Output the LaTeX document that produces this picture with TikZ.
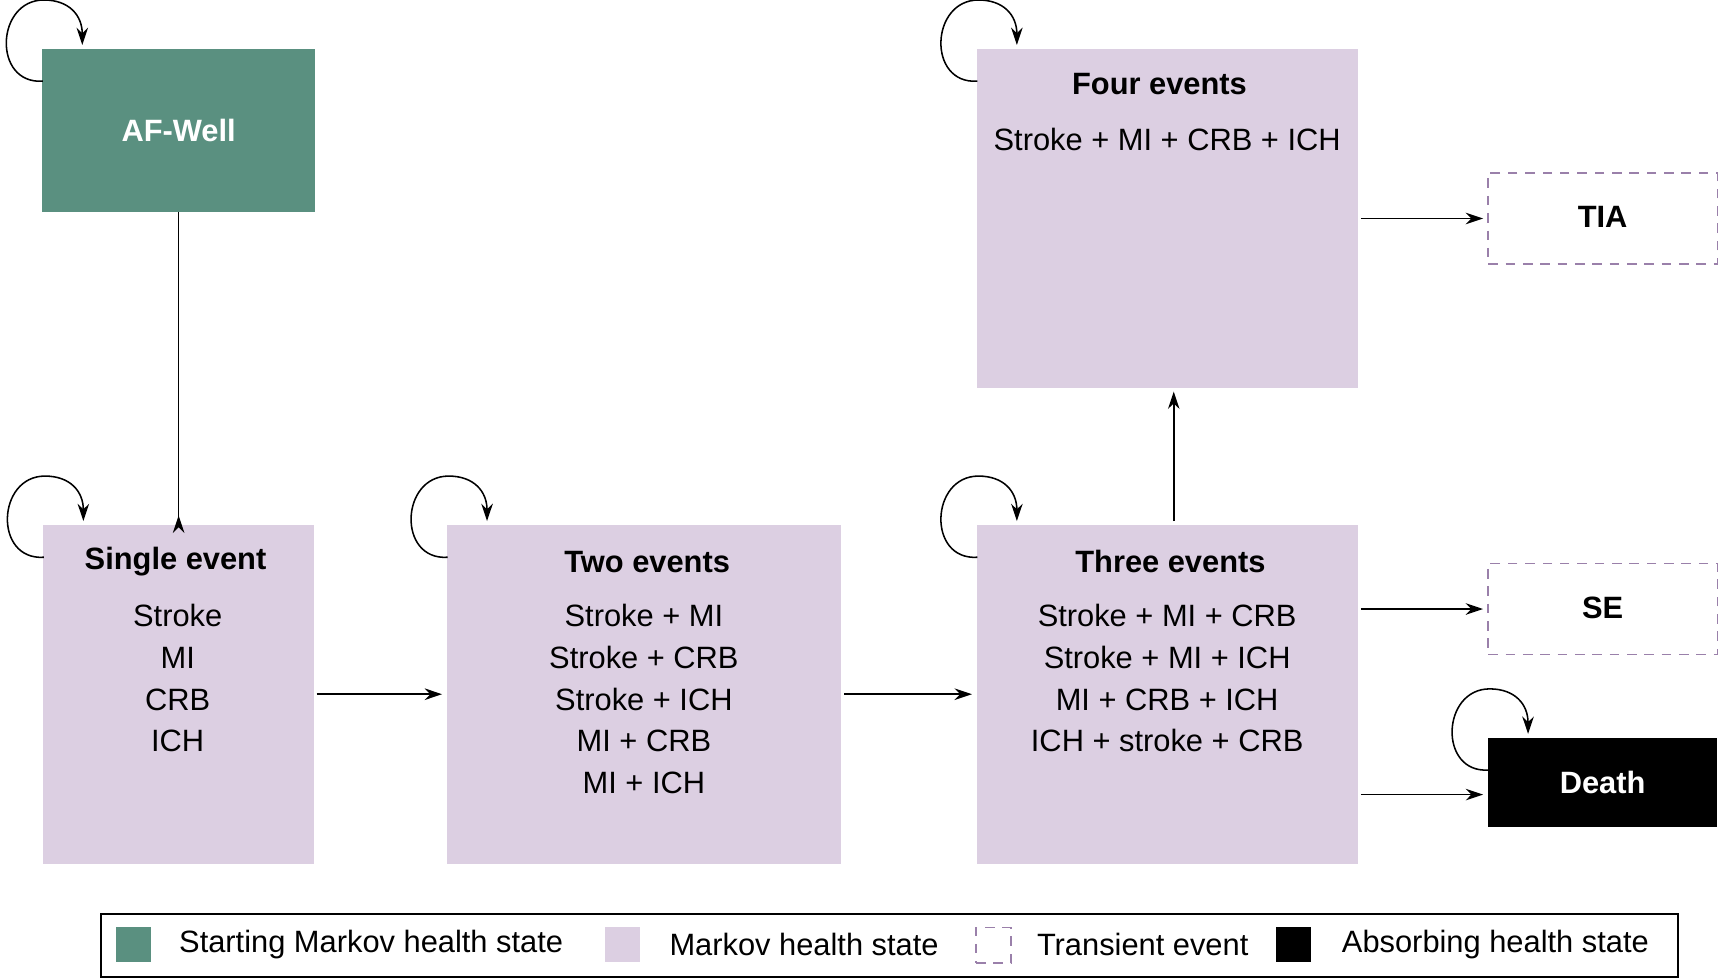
\documentclass[tikz,border=0pt]{standalone}
\usepackage{fontspec}
\setmainfont{Liberation Sans}
\usetikzlibrary{calc,arrows.meta}
\definecolor{teal1}{HTML}{5A9080}
\definecolor{pinkst}{HTML}{DCCFE2}
\definecolor{dashc}{HTML}{9A80AA}
\begin{document}
\begin{tikzpicture}[x=0.02cm,y=-0.02cm,
  box/.style={draw=none,anchor=north west,inner sep=0pt},
  state/.style={box,fill=pinkst},
  trans/.style={box,draw=dashc,dash pattern=on 5pt off 4pt,line width=0.8pt},
  arr/.style={-{Stealth[length=9pt,width=6pt]},line width=0.8pt},
  txt/.style={font=\fontsize{16}{21.6}\selectfont,align=center},
  ttl/.style={font=\fontsize{16}{21.6}\selectfont\bfseries}]
\useasboundingbox (0,0) rectangle (1568,892);
\newcommand{\selfloop}[1]{\draw[arr] ($(#1.north west)+(1,30)$) .. controls ($(#1.north west)+(-45,33)$) and ($(#1.north west)+(-42,-44)$) .. ($(#1.north west)+(2,-44)$) .. controls ($(#1.north west)+(25,-44)$) and ($(#1.north west)+(37,-30)$) .. ($(#1.north west)+(37,-3)$);}
\node[box,fill=teal1,minimum width=249*0.02cm,minimum height=149*0.02cm] (af) at (38,44) {};
\node[font=\fontsize{16}{20}\selectfont\bfseries,text=white] at (af.center) {AF-Well};
\node[state,minimum width=247*0.02cm,minimum height=309*0.02cm] (s1) at (39,478) {};
\node[state,minimum width=359*0.02cm,minimum height=309*0.02cm] (s2) at (407,478) {};
\node[state,minimum width=348*0.02cm,minimum height=309*0.02cm] (s3) at (890,478) {};
\node[state,minimum width=348*0.02cm,minimum height=309*0.02cm] (s4) at (890,44) {};
\node[trans,minimum width=209*0.02cm,minimum height=83*0.02cm] (tia) at (1356,157) {};
\node[trans,minimum width=209*0.02cm,minimum height=83*0.02cm] (se) at (1356,513) {};
\node[box,fill=black,minimum width=209*0.02cm,minimum height=82*0.02cm] (death) at (1356,672) {};
\node[ttl] at (1461,198) {TIA};
\node[ttl] at (1461,554) {SE};
\node[ttl,text=white] at (1461,713) {Death};
% texts
\node[ttl] at (160,512) {Single event};
\node[txt,anchor=north] at (162,545) {Stroke\\MI\\CRB\\ICH};
\node[ttl] at (590,512) {Two events};
\node[txt,anchor=north] at (587,545) {Stroke + MI\\Stroke + CRB\\Stroke + ICH\\MI + CRB\\MI + ICH};
\node[ttl] at (1067,512) {Three events};
\node[txt,anchor=north] at (1064,545) {Stroke + MI + CRB\\Stroke + MI + ICH\\MI + CRB + ICH\\ICH + stroke + CRB};
\node[ttl] at (1057,77) {Four events};
\node[txt,anchor=north] at (1064,111) {Stroke + MI + CRB + ICH};
% arrows
\draw[arr] (af.south) -- (af.south |- s1.north) ++(0,-8);
\draw[arr] ($(s1.east)+(2,0)$) -- ($(s2.west)+(-4,0)$);
\draw[arr] ($(s2.east)+(3,0)$) -- ($(s3.west)+(-4,0)$);
\draw[arr] (1070,475) coordinate (a1) -- (1070,357) coordinate (a2);
\draw[arr] (s4.east |- tia.west) ++(2,0) -- ($(tia.west)+(-4,0)$);
\draw[arr] (s3.east |- se.west) ++(2,0) -- ($(se.west)+(-4,0)$);
\draw[arr] ($(s3.east |- death.west)+(2,11)$) -- ($(death.west)+(-4,11)$);
\selfloop{af}\selfloop{s1}\selfloop{s2}\selfloop{s3}\selfloop{s4}\selfloop{death}
% legend
\node[box,draw=black,line width=1pt,minimum width=1438*0.02cm,minimum height=58*0.02cm] (leg) at (91,832) {};
\node[box,fill=teal1,minimum size=32*0.02cm] (l1) at (105,845) {};
\node[box,fill=pinkst,minimum size=32*0.02cm] (l2) at (551,845) {};
\node[trans,minimum size=32*0.02cm] (l3) at (889,845) {};
\node[box,fill=black,minimum size=32*0.02cm] (l4) at (1163,845) {};
\node[txt,anchor=west,inner sep=0pt] at (163,861) {Starting Markov health state};
\node[txt,anchor=west,inner sep=0pt] at (610,861) {Markov health state};
\node[txt,anchor=west,inner sep=0pt] at (945,861) {Transient event};
\node[txt,anchor=west,inner sep=0pt] at (1223,861) {Absorbing health state};
\end{tikzpicture}
\end{document}
